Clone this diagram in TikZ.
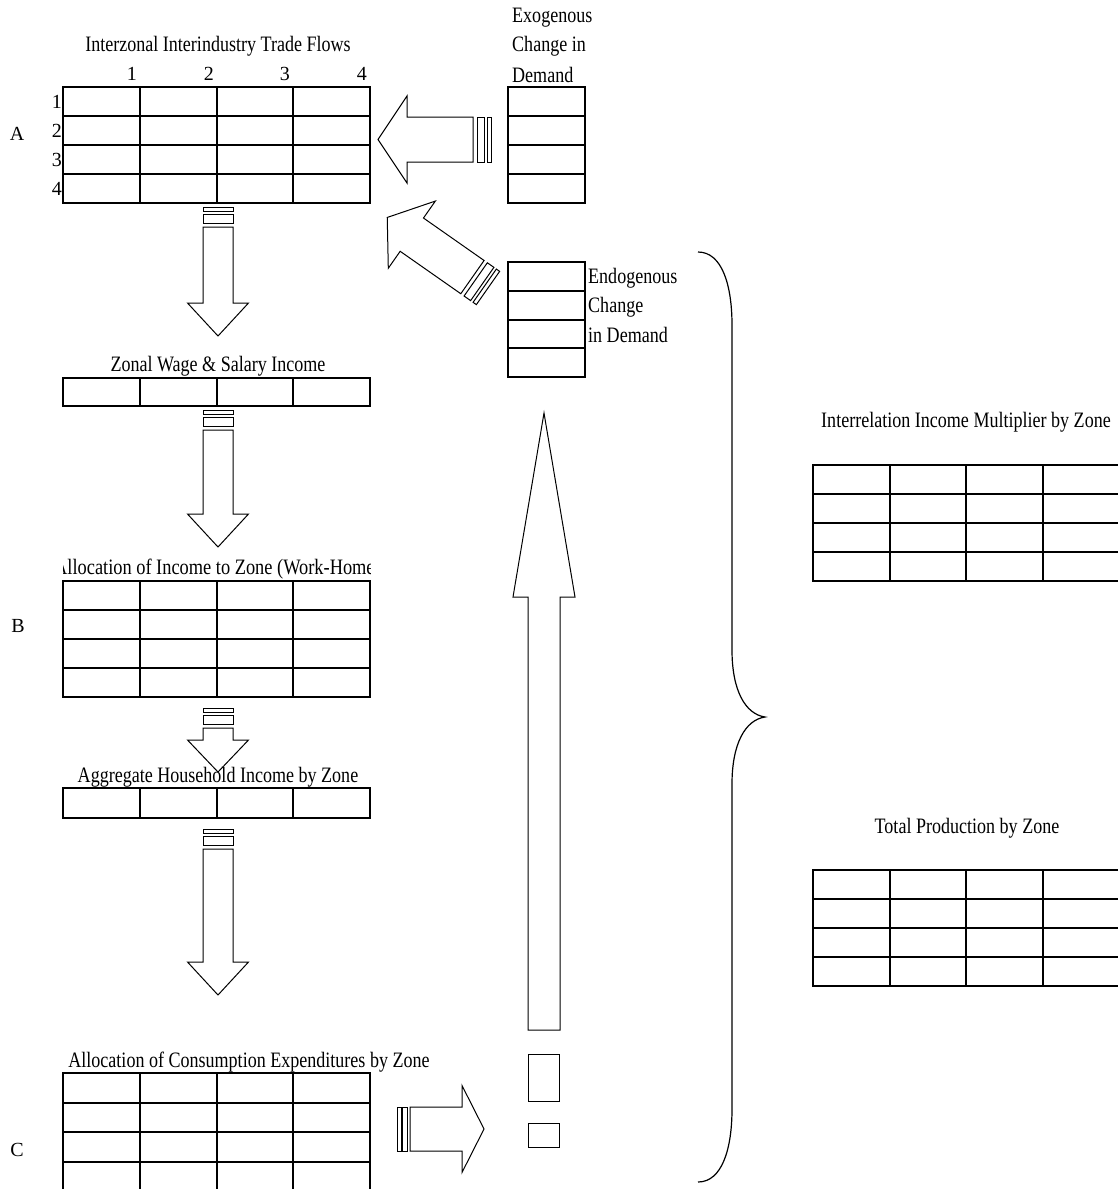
\documentclass[tikz,border=0pt]{standalone}
\usepackage{fontspec}
\setmainfont{Liberation Serif}
\newfontfamily\condfont[FakeStretch=0.82]{Liberation Serif}
\newfontfamily\condfontB[FakeStretch=0.835]{Liberation Serif}
% table: name, x, y(top), cols, rows, colw, rowh
\newcommand\tbl[7]{%
  \node[inner sep=0pt, outer sep=0pt, minimum width={#4*#6pt}, minimum height={#5*#7pt}, anchor=north west] (#1) at (#2,#3) {};
  \foreach \i in {0,...,#5} \draw[tline] (#2,#3+\i*#7) -- ++(#4*#6,0);
  \foreach \j in {0,...,#4} \draw[tline] (#2+\j*#6,#3) -- ++(0,#5*#7);
}
% block arrow body: s, H, L1, L2, L3 (local, pointing along +x)
\newcommand\abody[5]{\draw[aline] (#3,-#1) -- (#4,-#1) -- (#4,-#2) -- (#5,0) -- (#4,#2) -- (#4,#1) -- (#3,#1) -- cycle;}
\newcommand\astripe[3]{\draw[aline] (#2,-#1) rectangle (#3,#1);}
\begin{document}
\begin{tikzpicture}[x=1pt,y=-1pt,
  tline/.style={line width=2pt, line cap=rect},
  aline/.style={line width=1pt, line join=miter},
  ttl/.style={font=\condfont\fontsize{22}{25}\selectfont, inner sep=0pt},
  lbl/.style={font=\fontsize{20}{24}\selectfont, inner sep=0pt}]
\useasboundingbox (0,0) rectangle (1117,1189);

% ---------- Table A ----------
\node[ttl] (tA) at (218,46) {Interzonal Interindustry Trade Flows};
\tbl{A}{63}{87}{4}{4}{76.75}{29}
\foreach \n/\xx in {1/137,2/214,3/290,4/367}
  \node[lbl, anchor=east] (cA\n) at (\xx,74) {\n};
\foreach \n/\yy in {1/102,2/131,3/160,4/189}
  \node[lbl, anchor=east] (rA\n) at (62,\yy) {\n};
\node[lbl] (lA) at (17,134) {A};

% ---------- Exogenous ----------
\node[ttl, anchor=west] (ex1) at (512,18) {Exogenous};
\node[ttl, anchor=west] (ex2) at (512,46) {Change in};
\node[ttl, anchor=west] (ex3) at (512,75) {Demand};
\tbl{Ex}{508}{87}{1}{4}{77}{29}
\begin{scope}[shift={(491,139.5)}, rotate=180]
  \astripe{22.5}{0}{4}\astripe{22.5}{7}{14}
  \abody{22.5}{43.5}{18}{84}{113}
\end{scope}

% ---------- Endogenous ----------
\tbl{En}{508}{262}{1}{4}{77}{28.75}
\node[ttl, anchor=west] (en1) at (588,278) {Endogenous};
\node[ttl, anchor=west] (en2) at (588,307) {Change};
\node[ttl, anchor=west] (en3) at (588,335) {in Demand};
\begin{scope}[shift={(488,288)}, rotate=145]
  \astripe{20.3}{0}{4}\astripe{20.3}{7}{15}
  \abody{20.3}{41}{19}{93}{123}
\end{scope}

% ---------- arrow A -> wage ----------
\begin{scope}[shift={(218,207)}, rotate=-90]
  \astripe{15}{0}{4}\astripe{15}{7}{16}
  \abody{15}{30.5}{20}{96}{129}
\end{scope}

% ---------- Zonal wage ----------
\node[ttl] (tW) at (218,366) {Zonal Wage \& Salary Income};
\tbl{W}{63}{378}{4}{1}{76.75}{28}
\begin{scope}[shift={(218,410)}, rotate=-90]
  \astripe{15}{0}{4}\astripe{15}{7}{16}
  \abody{15}{30.5}{20}{104}{137}
\end{scope}

% ---------- Table B ----------
\begin{scope}
  \clip (63,550) rectangle (370,582);
  \node[font=\condfontB\fontsize{22}{25}\selectfont, inner sep=0pt, anchor=west] (tB) at (54,569) {Allocation of Income to Zone (Work-Home)};
\end{scope}
\tbl{B}{63}{581}{4}{4}{76.75}{29}
\node[lbl] (lB) at (18,626) {B};
\begin{scope}[shift={(218,708)}, rotate=-90]
  \astripe{15}{0}{4}\astripe{15}{7}{16}
  \abody{15}{30.5}{20}{32}{64}
\end{scope}

% ---------- Aggregate ----------
\node[ttl] (tG) at (218,777) {Aggregate Household Income by Zone};
\tbl{G}{63}{788}{4}{1}{76.75}{30}
\begin{scope}[shift={(218,829)}, rotate=-90]
  \astripe{15}{0}{4}\astripe{15}{7}{16}
  \abody{15}{30.5}{20}{133}{166}
\end{scope}

% ---------- Table C ----------
\node[ttl] (tC) at (249,1062) {Allocation of Consumption Expenditures by Zone};
\foreach \i in {0,...,3} \draw[tline] (63,1073+\i*29.5) -- ++(307,0);
\foreach \j in {0,...,4} \draw[tline] (63+\j*76.75,1073) -- ++(0,130);
\node[lbl] (lC) at (17,1150) {C};
\begin{scope}[shift={(397,1129)}, rotate=0]
  \astripe{22}{0}{4}\astripe{22}{5}{10}
  \abody{22}{43.5}{13}{65}{87}
\end{scope}

% ---------- big up arrow ----------
\draw[aline] (528,1054) rectangle (559,1101);
\draw[aline] (528,1123) rectangle (559,1147);
\begin{scope}[shift={(544,1030)}, rotate=90]
  \abody{16}{31}{0}{433}{617}
\end{scope}

% ---------- brace ----------
\draw[line width=1.2pt] (698,252) .. controls (722,252) and (732,285) .. (732,325)
  -- (732,650) .. controls (732,690) and (745,714) .. (765,717)
  .. controls (745,720) and (732,744) .. (732,784)
  -- (732,1109) .. controls (732,1149) and (722,1182) .. (698,1182);

% ---------- right tables ----------
\node[ttl] (tI) at (966,422) {Interrelation Income Multiplier by Zone};
\tbl{I}{813}{465}{4}{4}{76.5}{29}
\node[ttl] (tP) at (967,828) {Total Production by Zone};
\tbl{P}{813}{870}{4}{4}{76.5}{29}
\end{tikzpicture}
\end{document}
